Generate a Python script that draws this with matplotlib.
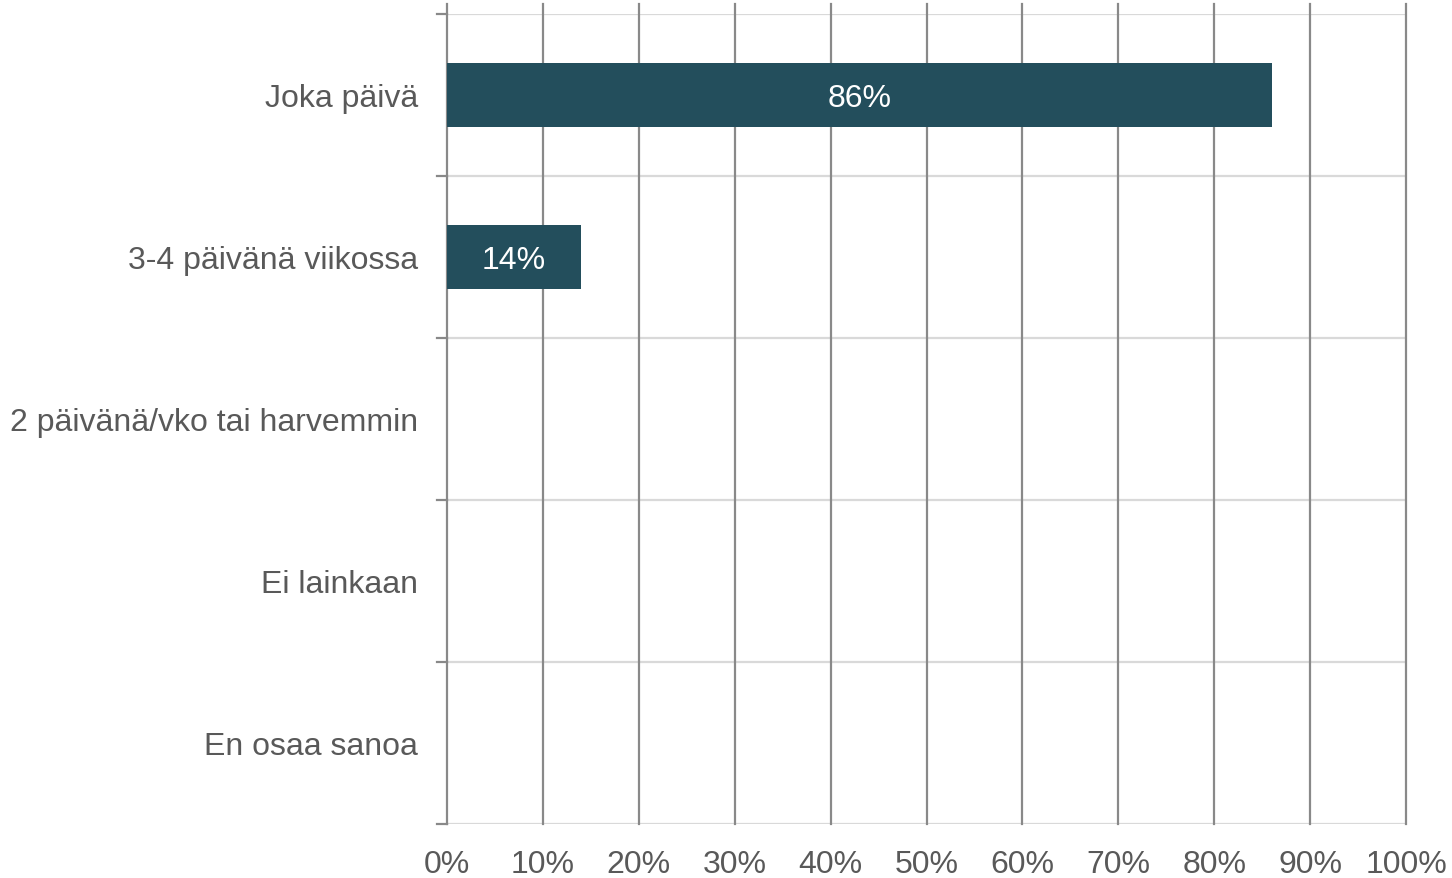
import numpy as np
import matplotlib.pyplot as plt

plt.rcParams['font.family'] = ['Liberation Sans', 'DejaVu Sans']

categories = ['Joka päivä', '3-4 päivänä viikossa', '2 päivänä/vko tai harvemmin',
              'Ei lainkaan', 'En osaa sanoa']
values = [86, 14, 0, 0, 0]
xtick_vals = [0, 10, 20, 30, 40, 50, 60, 70, 80, 90, 100]

bar_color = '#234E5C'
text_color = '#595959'
dark_grid = '#898989'
light_grid = '#D9D9D9'

fig = plt.figure(figsize=(14.52, 8.79), dpi=100)
ax = fig.add_axes([447/1452, 1 - 825/879, (1406-447)/1452, (825-15)/879])

pos = np.arange(len(categories)) + 0.5
ax.barh(pos, values, height=0.4, color=bar_color, zorder=3)
for p, v in zip(pos, values):
    if v > 0:
        ax.text(v / 2, p, f'{v}%', ha='center', va='center_baseline', color='white',
                fontsize=23, zorder=4)

ax.set_xlim(0, 100)
ax.set_ylim(len(categories), 0)

# vertical grid lines, poking a little above the plot
for xv in xtick_vals:
    ax.plot([xv, xv], [len(categories), -0.062], color=dark_grid, lw=1.6,
            clip_on=False, zorder=2)

# horizontal lines between categories
for yv in range(len(categories) + 1):
    ax.axhline(yv, color=light_grid, lw=1.6, zorder=1)
    ax.plot([-1.05, 0], [yv, yv], color=dark_grid, lw=1.6, clip_on=False, zorder=2)

for s in ax.spines.values():
    s.set_visible(False)

ax.set_xticks(xtick_vals)
ax.set_xticklabels([f'{v}%' for v in xtick_vals])
ax.tick_params(axis='x', length=0, pad=18, labelsize=23, labelcolor=text_color)
ax.set_yticks(pos)
ax.set_yticklabels(categories)
ax.tick_params(axis='y', length=0, pad=21, labelsize=23, labelcolor=text_color)

fig.savefig('out.png', dpi=100)
